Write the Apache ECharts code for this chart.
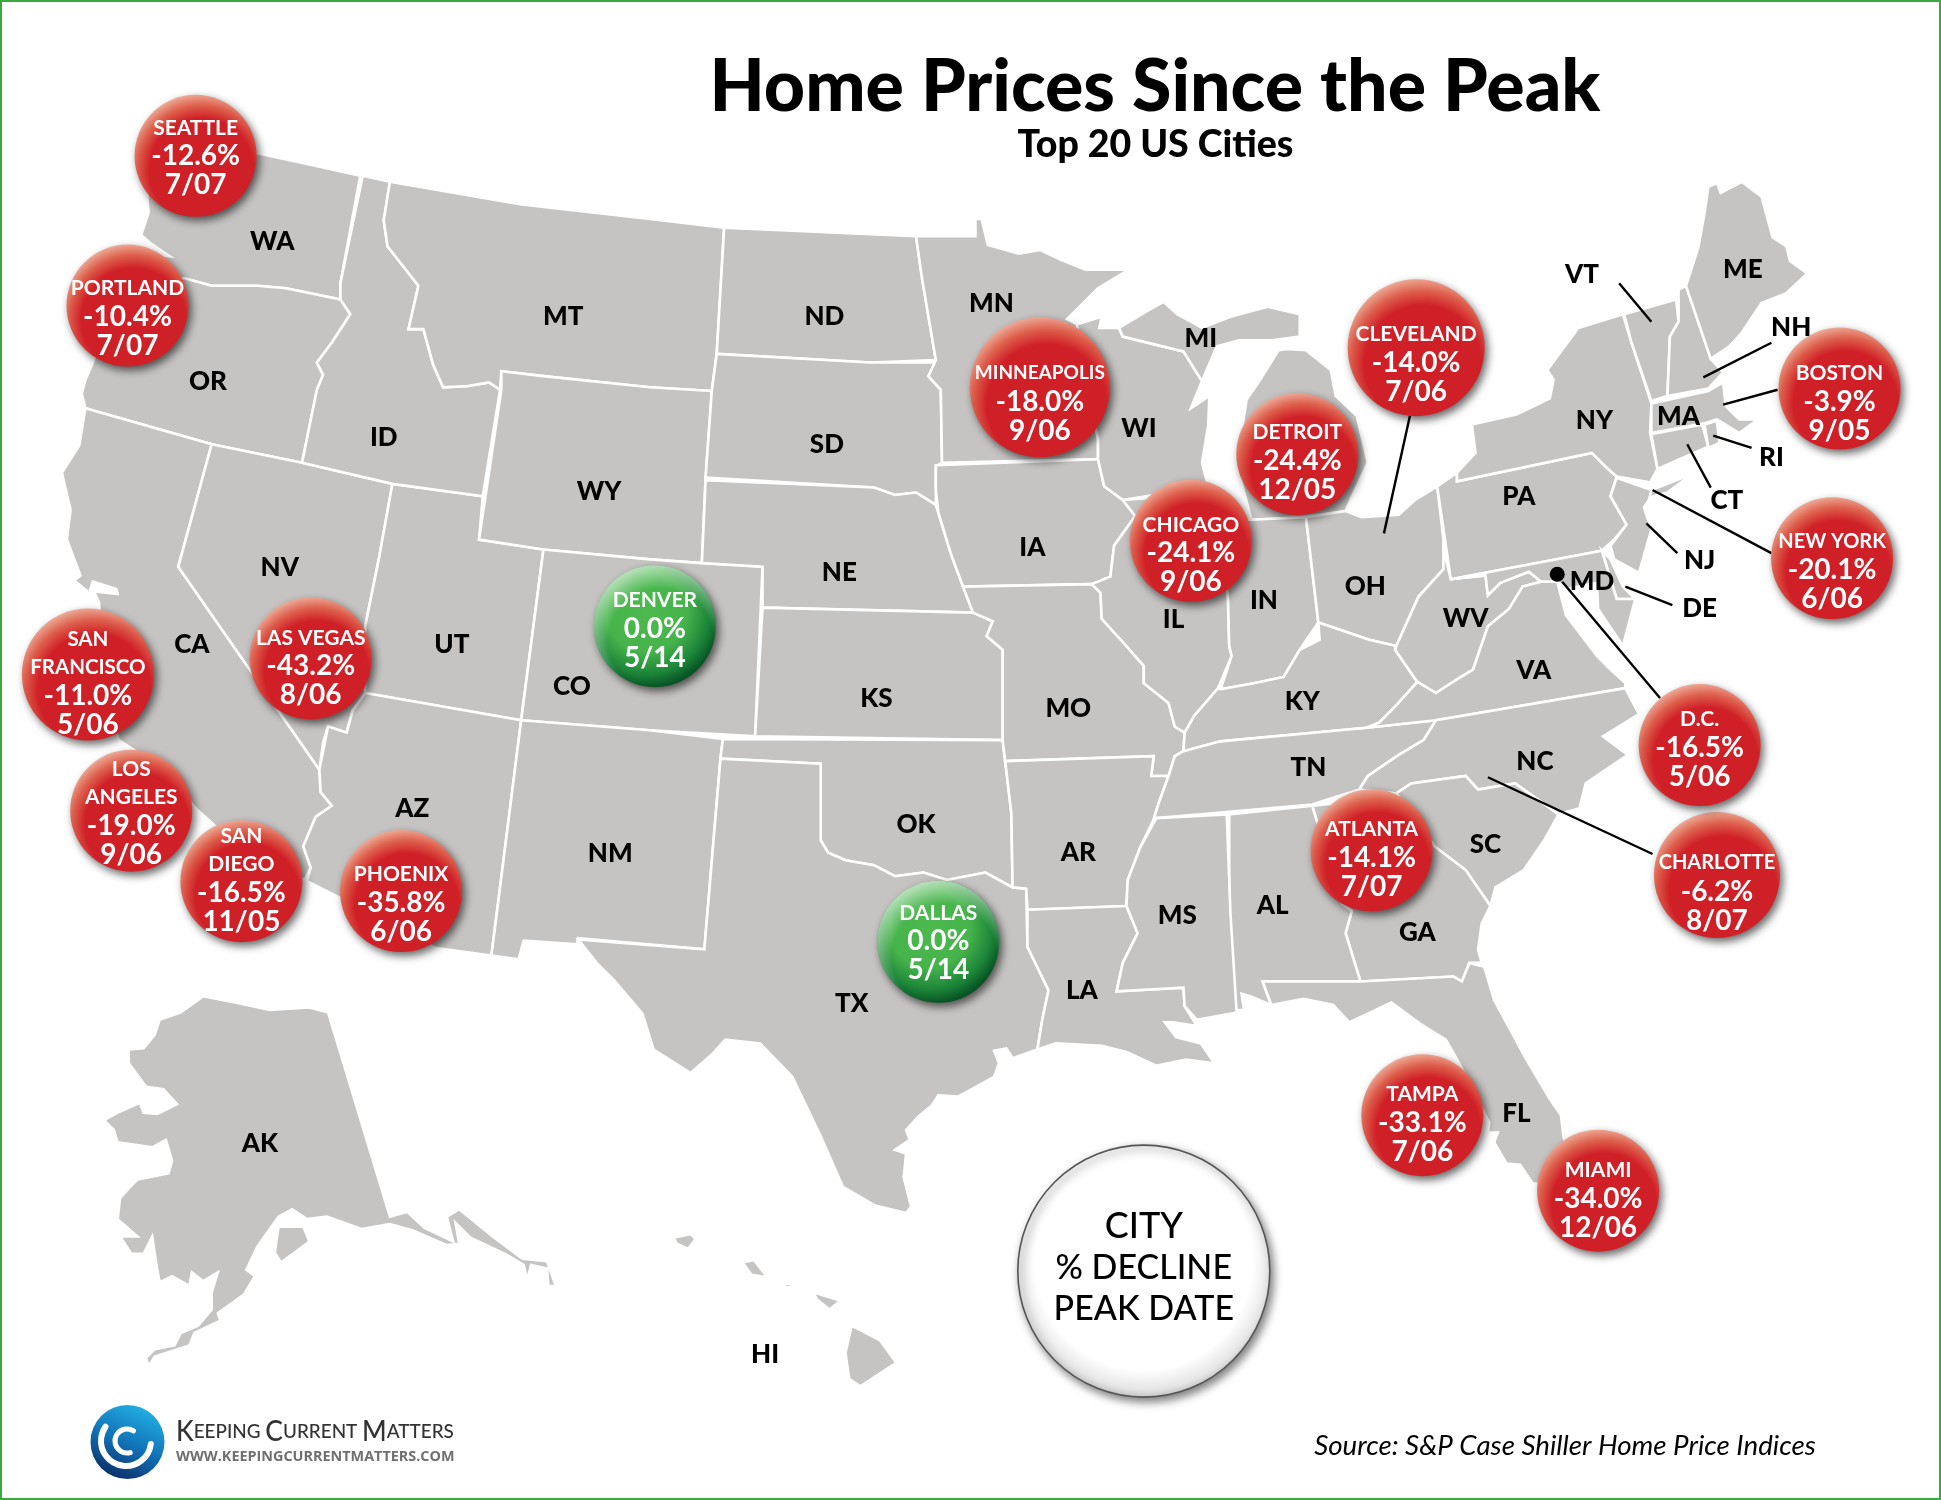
<!DOCTYPE html>
<html><head><meta charset="utf-8">
<style>html,body{margin:0;padding:0;background:#fff}#c{width:1941px;height:1500px}</style>
<script src="https://cdn.jsdelivr.net/npm/echarts@6/dist/echarts.min.js"></script>
</head><body><div id="c"></div>
<script>
// ---- data ----
const cityNames = ['SEATTLE','PORTLAND','SAN\nFRANCISCO','LAS VEGAS','LOS\nANGELES','SAN\nDIEGO','PHOENIX','DENVER','DALLAS','MINNEAPOLIS','CHICAGO','DETROIT','CLEVELAND','ATLANTA','TAMPA','MIAMI','CHARLOTTE','D.C.','NEW YORK','BOSTON'];
const cityDeclines = [-12.6,-10.4,-11.0,-43.2,-19.0,-16.5,-35.8,0.0,0.0,-18.0,-24.1,-24.4,-14.0,-14.1,-33.1,-34.0,-6.2,-16.5,-20.1,-3.9];
const cityPeaks = ['7/07','7/07','5/06','8/06','9/06','11/05','6/06','5/14','5/14','9/06','9/06','12/05','7/06','7/07','7/06','12/06','8/07','5/06','6/06','9/05'];
const cityMapX = [158,103,71,251,106,195,324,529,758,840,962,1048,1144,1108,1149,1291,1387,1373,1480,1486];
const cityMapY = [126,247,545,532,655,712,720,506,761,313,437,367,281,687,901,962,707,602,451,314];

const stateCodes = ['WA','OR','ID','MT','ND','MN','WI','MI','SD','WY','NE','IA','NV','CA','UT','CO','KS','MO','IL','IN','OH','KY','WV','PA','NY','VT','ME','NH','MA','RI','CT','NJ','DE','MD','VA','TN','NC','SC','AR','OK','AZ','NM','TX','LA','MS','AL','GA','FL','AK','HI'];
const stateLabelX = [220,168,310,455,666,801,920,970,668,484,678,834,226,155,365,462,708,863,948,1021,1103,1052,1184,1227,1288,1278,1408,1447,1356,1431,1395,1373,1373,1286,1239,1057,1240,1200,871,740,333,493,688,874,951,1028,1145,1225,210,618];
const stateLabelY = [194,307,352,254,254,244,345,272,358,396,461,441,457,519,519,553,563,571,499,484,472,565,498,400,338,220,216,263,335,368,403,451,490,468,540,619,614,681,687,665,652,688,809,799,738,730,752,898,922,1093];

const leaderFrom = [[1139,336],[1308,229],[1431,277],[1436,315],[1415,362],[1382,394],[1431,447],[1355,447],[1351,489],[1262,470],[1202,628]];
const leaderTo   = [[1118,431],[1334,260],[1376,305],[1392,327],[1384,352],[1363,359],[1335,396],[1330,423],[1313,474],[1341,564],[1335,690]];
const dcDot = [1258,464];
const keyBubble = [924,1027];
const keyLines = ['CITY','% DECLINE','PEAK DATE'];

const titleText = 'Home Prices Since the Peak';
const subtitleText = 'Top 20 US Cities';
const sourceText = 'Source: S&P Case Shiller Home Price Indices';

// state outlines
const stateOutlines = {
WA:[[[135,130],[208,124],[250,133],[291,142],[275,229],[275,242],[231,233],[208,231],[171,231],[149,225],[115,226],[110,212],[127,206],[137,207],[122,197],[114,190],[120,172],[119,159]]],
OR:[[[100,226],[149,225],[171,231],[208,231],[231,233],[275,242],[283,254],[268,277],[256,293],[261,303],[256,315],[244,374],[171,359],[69,330],[66,318],[69,307],[75,293],[85,265]]],
CA:[[[69,330],[171,359],[144,458],[258,622],[259,640],[268,651],[255,660],[245,684],[251,701],[246,711],[188,680],[159,654],[130,620],[96,598],[85,560],[80,487],[76,478],[95,480],[94,476],[75,470],[72,479],[60,469],[65,465],[54,436],[57,412],[50,382],[64,360]]],
NV:[[[171,359],[244,374],[317,391],[306,452],[295,506],[295,560],[285,574],[280,592],[265,587],[261,600],[258,622],[144,458]]],
UT:[[[317,391],[390,401],[387,436],[439,444],[421,582],[295,560],[295,506],[306,452]]],
AZ:[[[295,560],[421,582],[397,772],[352,766],[278,727],[248,712],[251,701],[245,684],[255,660],[268,651],[259,640],[258,622],[265,587],[280,592],[285,574]]],
ID:[[[293,142],[315,147],[310,178],[313,199],[338,231],[330,266],[342,266],[350,295],[358,313],[378,312],[395,309],[404,315],[390,401],[317,391],[244,374],[256,315],[261,303],[256,293],[268,277],[283,254],[275,242],[275,229]]],
MT:[[[315,147],[420,165],[525,177],[585,184],[579,285],[575,316],[525,313],[439,304],[405,300],[404,315],[395,309],[378,312],[358,313],[350,295],[342,266],[330,266],[338,231],[313,199],[310,178]]],
WY:[[[405,300],[439,304],[525,313],[575,316],[570,386],[567,455],[525,452],[439,444],[387,436],[405,315]]],
CO:[[[439,444],[525,452],[567,455],[616,458],[610,595],[525,590],[421,582]]],
NM:[[[421,582],[525,590],[584,597],[582,613],[569,767],[467,758],[466,763],[423,760],[419,775],[397,772]]],
ND:[[[585,184],[740,191],[745,226],[756,291],[703,293],[579,286]]],
SD:[[[579,286],[703,293],[756,293],[750,304],[760,315],[761,374],[756,377],[756,398],[756,408],[740,398],[723,400],[706,394],[570,386],[575,316]]],
NE:[[[570,388],[706,394],[723,400],[740,398],[756,408],[768,447],[778,474],[786,495],[616,491],[616,458],[567,455]]],
KS:[[[616,491],[786,495],[802,502],[797,514],[810,525],[810,598],[610,595]]],
OK:[[[584,597],[810,598],[817,657],[818,717],[796,705],[765,711],[746,705],[723,708],[706,699],[683,695],[669,689],[663,679],[663,617],[582,613]]],
TX:[[[582,613],[663,617],[663,679],[669,689],[683,695],[706,699],[723,708],[746,705],[765,711],[796,705],[818,717],[829,718],[830,765],[847,800],[842,824],[838,848],[818,855],[813,847],[803,849],[807,859],[803,870],[774,886],[758,885],[753,893],[742,902],[732,913],[735,921],[723,929],[732,932],[730,951],[736,975],[732,980],[707,974],[681,959],[663,918],[640,870],[614,843],[586,840],[575,852],[558,867],[528,848],[519,819],[496,792],[482,778],[467,759],[569,767]]],
MN:[[[740,191],[788,191],[788,177],[793,177],[798,198],[823,205],[840,202],[857,210],[877,218],[912,218],[887,233],[862,258],[870,262],[875,300],[887,355],[887,371],[761,374],[760,315],[750,304],[756,291],[745,226]]],
IA:[[[756,376],[887,371],[892,393],[907,404],[917,417],[900,441],[897,466],[882,472],[778,474],[768,447],[758,414],[756,396]]],
MO:[[[778,474],[882,472],[889,479],[890,500],[910,522],[924,538],[924,552],[944,568],[949,587],[957,592],[956,607],[949,611],[944,627],[930,627],[932,611],[812,615],[810,598],[810,525],[797,514],[802,502],[786,495]]],
AR:[[[812,615],[932,611],[930,627],[944,627],[936,649],[932,662],[921,685],[911,711],[910,732],[830,735],[829,718],[818,717],[817,657]]],
LA:[[[830,735],[910,732],[919,754],[907,778],[902,801],[956,798],[957,813],[967,829],[948,826],[941,826],[950,838],[970,843],[981,859],[958,856],[934,861],[910,850],[890,845],[853,843],[838,848],[842,824],[847,800],[830,765]]],
WI:[[[870,262],[890,256],[888,265],[904,265],[907,272],[956,284],[971,308],[962,330],[977,320],[976,344],[971,374],[976,393],[907,404],[892,393],[887,371],[887,355],[875,300]]],
MI:[[[904,265],[907,272],[956,284],[971,308],[983,280],[1001,275],[1028,275],[1050,272],[1050,254],[1024,248],[994,256],[971,265],[951,254],[940,244],[929,250],[909,262]],[[1040,282],[1055,283],[1075,299],[1079,320],[1096,336],[1105,374],[1095,395],[1087,413],[1050,418],[1011,420],[1003,390],[1001,363],[1007,323],[1018,307],[1033,283]]],
IL:[[[907,404],[976,399],[985,420],[992,484],[993,522],[995,530],[984,556],[975,570],[965,578],[957,592],[949,587],[944,568],[924,552],[924,538],[910,522],[890,500],[889,479],[882,472],[897,466],[900,441],[917,417]]],
IN:[[[985,420],[1011,420],[1055,418],[1065,503],[1050,525],[1037,547],[1013,552],[986,557],[995,530],[993,522],[992,484]]],
OH:[[[1055,418],[1087,413],[1100,418],[1130,416],[1143,404],[1161,393],[1167,444],[1166,460],[1146,482],[1128,522],[1106,517],[1080,508],[1065,503]]],
KY:[[[986,557],[1013,552],[1037,547],[1050,525],[1066,517],[1065,503],[1080,508],[1106,517],[1128,522],[1127,525],[1145,551],[1127,571],[1114,584],[1104,588],[986,599],[956,607],[957,592],[965,578],[984,556]]],
WV:[[[1166,444],[1172,468],[1200,465],[1202,481],[1212,471],[1235,462],[1245,470],[1230,474],[1219,492],[1202,506],[1190,541],[1177,549],[1160,560],[1145,551],[1127,525],[1128,522],[1146,482],[1166,460]]],
TN:[[[956,607],[986,599],[1104,588],[1160,582],[1150,598],[1130,610],[1105,627],[1098,638],[1060,650],[970,658],[934,661],[932,662],[936,649],[944,627],[949,611]]],
VA:[[[1114,584],[1127,571],[1145,551],[1160,560],[1177,549],[1190,541],[1202,506],[1219,492],[1230,474],[1245,470],[1258,470],[1265,497],[1290,530],[1300,540],[1313,552],[1313,556],[1160,582],[1104,588]]],
NC:[[[1313,556],[1324,577],[1295,595],[1315,610],[1281,633],[1276,653],[1259,658],[1224,633],[1194,638],[1184,627],[1140,633],[1128,641],[1098,638],[1105,627],[1130,610],[1150,598],[1160,582]]],
SC:[[[1128,641],[1140,633],[1184,627],[1194,638],[1224,633],[1259,658],[1248,678],[1231,703],[1208,717],[1204,732],[1184,703],[1159,684]]],
GA:[[[1060,651],[1080,649],[1128,641],[1159,684],[1184,703],[1204,732],[1197,746],[1194,767],[1197,778],[1187,778],[1181,793],[1174,789],[1099,793],[1087,754],[1092,736],[1084,730]]],
AL:[[[993,658],[1060,651],[1084,730],[1092,736],[1087,754],[1099,793],[1020,793],[1027,812],[1010,805],[1003,803],[1005,816],[996,816],[993,737]]],
MS:[[[934,661],[991,658],[994,738],[999,818],[967,824],[957,813],[956,798],[902,801],[907,778],[919,754],[910,732],[911,711],[921,685]]],
FL:[[[1020,793],[1099,793],[1174,789],[1181,793],[1187,778],[1199,781],[1207,808],[1233,856],[1252,888],[1261,901],[1263,918],[1270,950],[1254,958],[1238,956],[1228,941],[1217,940],[1207,923],[1210,915],[1202,915],[1203,907],[1190,880],[1177,856],[1168,840],[1147,827],[1124,810],[1090,826],[1077,812],[1053,807],[1027,812]]],
PA:[[[1161,393],[1177,382],[1177,389],[1286,366],[1298,378],[1306,385],[1301,401],[1314,424],[1304,436],[1294,445],[1172,468]]],
NY:[[[1177,382],[1192,366],[1189,343],[1225,335],[1252,322],[1255,307],[1250,299],[1275,265],[1311,254],[1318,277],[1334,326],[1333,350],[1339,379],[1334,388],[1334,396],[1367,383],[1347,398],[1332,402],[1334,390],[1306,385],[1298,378],[1286,366],[1177,389]]],
VT:[[[1312,254],[1354,242],[1356,260],[1349,272],[1347,320],[1334,324],[1318,277]]],
NH:[[[1356,234],[1362,231],[1382,290],[1392,301],[1380,314],[1347,320],[1349,272],[1356,260]]],
ME:[[[1362,231],[1372,200],[1377,172],[1380,151],[1387,148],[1390,156],[1407,147],[1423,159],[1432,192],[1443,199],[1446,211],[1460,221],[1443,237],[1423,245],[1407,269],[1397,280],[1382,290]]],
MA:[[[1334,326],[1380,316],[1392,309],[1394,328],[1405,339],[1420,339],[1405,350],[1387,339],[1377,342],[1334,350]]],
CT:[[[1334,351],[1375,343],[1380,361],[1339,379]]],
RI:[[[1377,343],[1387,340],[1389,358],[1380,362]]],
NJ:[[[1306,386],[1334,396],[1332,404],[1328,410],[1334,428],[1324,463],[1304,452],[1301,441],[1314,424],[1301,401]]],
DE:[[[1294,445],[1301,452],[1311,474],[1321,484],[1306,484]]],
MD:[[[1172,468],[1294,445],[1306,484],[1321,484],[1311,522],[1291,492],[1290,471],[1265,476],[1258,470],[1245,470],[1235,462],[1212,471],[1202,481],[1200,465]]],
AK:[[[164,805],[190,810],[218,816],[250,814],[265,818],[315,983],[329,979],[343,992],[366,1003],[361,983],[371,977],[398,999],[422,1017],[442,1019],[449,1039],[443,1039],[442,1025],[429,1022],[426,1034],[423,1022],[408,1013],[380,1000],[368,988],[371,1005],[361,1006],[333,994],[315,989],[292,993],[264,983],[248,985],[236,977],[225,983],[208,1007],[199,1026],[206,1031],[197,1046],[176,1061],[178,1067],[157,1077],[153,1087],[125,1096],[120,1104],[118,1097],[125,1090],[141,1087],[146,1077],[160,1071],[171,1058],[171,1044],[176,1028],[164,1035],[155,1028],[153,1039],[139,1031],[129,1036],[127,1026],[123,999],[116,1013],[106,1013],[97,999],[111,999],[95,985],[97,968],[106,958],[111,953],[136,948],[139,938],[134,921],[123,927],[95,923],[92,913],[84,905],[97,898],[113,891],[116,899],[127,900],[143,892],[132,880],[118,878],[104,859],[104,848],[116,847],[125,836],[129,824],[146,818]],[[225,991],[245,991],[250,1003],[227,1020],[222,1012]]],
HI:[[[544,1000],[558,997],[562,1001],[556,1009],[547,1005]],[[528,1010],[533,1005],[531,1009]],[[600,1020],[609,1018],[620,1032],[607,1030]],[[634,1037],[653,1039],[634,1040]],[[643,1047],[650,1050],[646,1051]],[[657,1044],[679,1051],[670,1058],[660,1050]],[[688,1071],[711,1083],[724,1101],[695,1120],[686,1114],[683,1093]]]
};

const mapFrame = [[0,0],[1568,0],[1568,1212],[0,1212]];

// ---- build ----
const features = [{type:'Feature',properties:{name:'frame'},geometry:{type:'Polygon',coordinates:[mapFrame]}}]
  .concat(Object.keys(stateOutlines).map(k=>({type:'Feature',properties:{name:k},geometry:{type:'MultiPolygon',coordinates:stateOutlines[k].map(r=>[r])}})));
echarts.registerMap('usa',{type:'FeatureCollection',features});

const bubbleSize = {'MINNEAPOLIS':140,'CLEVELAND':137,'SAN\nFRANCISCO':132,'CHARLOTTE':126};
const labelNudge = {'SEATTLE':1,'PORTLAND':12,'SAN\nFRANCISCO':8,'LAS VEGAS':8.5,'LOS\nANGELES':2,'SAN\nDIEGO':-1.5,'PHOENIX':12.5,'DENVER':3,'DALLAS':0,'MINNEAPOLIS':15,'CHICAGO':13,'DETROIT':7.5,'CLEVELAND':16,'ATLANTA':8,'TAMPA':8,'MIAMI':9,'CHARLOTTE':17,'D.C.':3,'NEW YORK':12,'BOSTON':13.5};
const nameSize = {'MINNEAPOLIS':19,'CHARLOTTE':20,'NEW YORK':20,'FRANCISCO':21};
const FONT='Lato, "Open Sans", sans-serif';
const radial=(x,y,r,stops)=>({type:'radial',x,y,r,colorStops:stops.map(s=>({offset:s[0],color:s[1]}))});
const redFill=radial(.55,.62,.65,[[0,'#d02027'],[.66,'#d02027'],[.82,'#dd5f4c'],[1,'#f0baa6']]);
const greenFill=radial(.43,.38,.66,[[0,'#4db94f'],[.5,'#46b44b'],[.78,'#1c8439'],[1,'#00441d']]);
const gloss=radial(.55,.62,.65,[[0,'rgba(255,255,255,0)'],[.66,'rgba(255,255,255,0)'],[1,'rgba(255,255,255,.7)']]);

const cities=cityNames.map((n,i)=>({name:n,value:[cityMapX[i],cityMapY[i]],symbolSize:bubbleSize[n]||122,decline:cityDeclines[i],peak:cityPeaks[i]}));

const option={
  animation:false,
  backgroundColor:'#fff',
  title:[
    {text:titleText,left:1150,top:47,textAlign:'center',textStyle:{fontFamily:FONT,fontWeight:900,fontSize:71.6,color:'#000'}},
    {text:subtitleText,left:1150.5,top:121,textAlign:'center',textStyle:{fontFamily:FONT,fontWeight:900,fontSize:37.5,color:'#000'}},
    {text:sourceText,left:1560,top:1427,textAlign:'center',textStyle:{fontFamily:FONT,fontStyle:'italic',fontWeight:'normal',fontSize:27.7,color:'#000'}}
  ],
  geo:{map:'usa',roam:false,silent:true,layoutCenter:[970.5,750],layoutSize:1941,
    projection:{project:p=>[p[0],p[1]],unproject:p=>[p[0],p[1]]},
    label:{show:false},
    itemStyle:{areaColor:'#c5c4c2',borderColor:'#fff',borderWidth:2.6},
    emphasis:{disabled:true},
    regions:[{name:'frame',itemStyle:{areaColor:'rgba(0,0,0,0)',borderColor:'rgba(0,0,0,0)',borderWidth:0}}]
  },
  series:[
    {type:'scatter',name:'State labels',coordinateSystem:'geo',silent:true,z:3,symbolSize:1,itemStyle:{color:'rgba(0,0,0,0)',opacity:1},
     label:{show:true,position:'inside',offset:[0,2],formatter:p=>p.name,fontFamily:FONT,fontWeight:900,fontSize:26,color:'#000'},
     data:stateCodes.map((s,i)=>({name:s,value:[stateLabelX[i],stateLabelY[i]]}))},
    {type:'lines',name:'Leaders',coordinateSystem:'geo',silent:true,z:4,polyline:false,lineStyle:{color:'#000',width:2.4,opacity:1,curveness:0},
     data:leaderFrom.map((a,i)=>({coords:[a,leaderTo[i]]}))},
    {type:'scatter',name:'DC dot',coordinateSystem:'geo',silent:true,z:4,symbolSize:15,itemStyle:{color:'#000',opacity:1},data:[dcDot]},
    {type:'scatter',name:'Key',coordinateSystem:'geo',silent:true,z:5,symbolSize:252,
     itemStyle:{opacity:1,color:radial(.5,.46,.55,[[0,'#fff'],[.78,'#fff'],[.92,'#e6e6e6'],[1,'#c4c4c4']]),borderColor:'#555',borderWidth:1.6,shadowBlur:9,shadowColor:'rgba(0,0,0,.5)',shadowOffsetX:3,shadowOffsetY:4},
     label:{show:true,position:'inside',offset:[0,-4],formatter:'{a|'+keyLines[0]+'}\n{b|'+keyLines[1]+'}\n{b|'+keyLines[2]+'}',rich:{a:{fontFamily:FONT,fontWeight:500,fontSize:36,color:'#000',lineHeight:42},b:{fontFamily:FONT,fontWeight:500,fontSize:34,color:'#000',lineHeight:41}}},
     data:[keyBubble]},
    {type:'scatter',name:'City bubbles',coordinateSystem:'geo',silent:true,z:6,
     itemStyle:{opacity:1,shadowBlur:9,shadowColor:'rgba(0,0,0,.6)',shadowOffsetX:3,shadowOffsetY:4},
     data:cities.map(c=>({name:c.name,value:c.value,symbolSize:c.symbolSize,itemStyle:{color:c.decline===0?greenFill:redFill}}))},
    {type:'scatter',name:'City labels',coordinateSystem:'geo',silent:true,z:7,
     itemStyle:{opacity:1,color:gloss},
     label:{show:true,position:'inside',color:'#fff',
       formatter:p=>{const c=cities[p.dataIndex];
         return c.name.split('\n').map(t=>'{n|'+t+'}').join('\n')+'\n{v|'+c.decline.toFixed(1)+'%}\n{v|'+c.peak+'}';}},
     data:cities.map(c=>({name:c.name,value:c.value,symbolSize:c.symbolSize,
        itemStyle:{color:c.decline===0?gloss:'rgba(0,0,0,0)'},
        label:{offset:[0,labelNudge[c.name]||0],
          rich:{n:{fontFamily:FONT,fontWeight:'bold',fontSize:nameSize[c.name]||(c.name.indexOf('FRANCISCO')>=0?20.5:21),color:'#fff',lineHeight:28},
                v:{fontFamily:FONT,fontWeight:'bold',fontSize:28,color:'#fff',lineHeight:29}}}}))}
  ],
  graphic:[
    {type:'rect',silent:true,z:20,shape:{x:1,y:1,width:1939,height:1498},style:{fill:'none',stroke:'#3aaa3f',lineWidth:2}},
    {type:'circle',silent:true,z:20,shape:{cx:127.5,cy:1442,r:37},style:{fill:new echarts.graphic.LinearGradient(.7,0,.25,1,[{offset:0,color:'#22b1e4'},{offset:.5,color:'#1273b8'},{offset:1,color:'#0a2a63'}])}},
    {type:'arc',silent:true,z:21,shape:{cx:126,cy:1441,r:25,startAngle:.12,endAngle:3.75,clockwise:true},style:{fill:'none',stroke:'#fff',lineWidth:6,lineCap:'round'}},
    {type:'arc',silent:true,z:21,shape:{cx:127,cy:1441,r:12,startAngle:-1.0,endAngle:1.3,clockwise:false},style:{fill:'none',stroke:'#fff',lineWidth:5,lineCap:'round'}},
    {type:'text',silent:true,z:21,x:176,y:1418,scaleX:.945,style:{x:0,y:0,text:'{k|K}{s|EEPING }{k|C}{s|URRENT }{k|M}{s|ATTERS}',rich:{k:{fontFamily:FONT,fontWeight:500,fontSize:28,fill:'#333'},s:{fontFamily:FONT,fontWeight:500,fontSize:20,fill:'#333'}}}},
    {type:'text',silent:true,z:21,style:{x:176,y:1450,text:'WWW.KEEPINGCURRENTMATTERS.COM',font:'bold 14.4px "Open Sans", sans-serif',fill:'#6f6f6f'}}
  ]
};
echarts.init(document.getElementById('c'),null,{renderer:'canvas',width:1941,height:1500}).setOption(option);
</script></body></html>
